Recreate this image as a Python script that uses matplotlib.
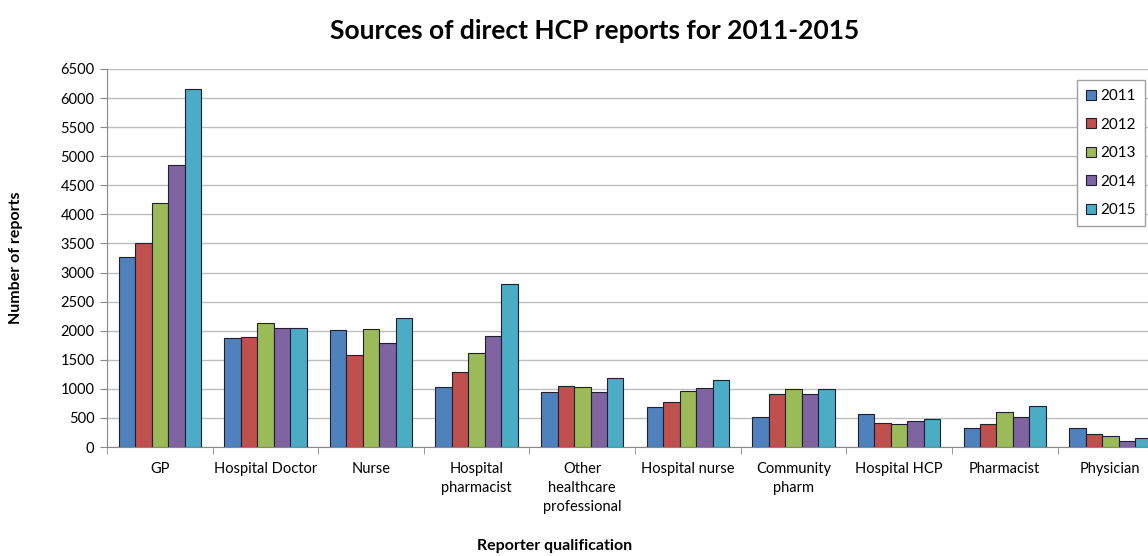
import matplotlib.pyplot as plt
import numpy as np

plt.rcParams['font.family'] = ['Lato', 'DejaVu Sans']

categories = ["GP", "Hospital Doctor", "Nurse", "Hospital\npharmacist",
              "Other\nhealthcare\nprofessional", "Hospital nurse",
              "Community\npharm", "Hospital HCP", "Pharmacist", "Physician"]
years = ["2011", "2012", "2013", "2014", "2015"]

r2011 = [3270, 1870, 2020, 1040, 940, 680, 520, 570, 320, 320]
r2012 = [3510, 1890, 1590, 1290, 1050, 780, 920, 420, 400, 230]
r2013 = [4195, 2130, 2030, 1620, 1030, 960, 1000, 390, 600, 190]
r2014 = [4850, 2040, 1780, 1910, 940, 1020, 920, 440, 510, 110]
r2015 = [6155, 2040, 2210, 2810, 1190, 1160, 990, 480, 710, 160]
series = [r2011, r2012, r2013, r2014, r2015]

colors = ["#4F81BD", "#C0504D", "#9BBB59", "#8064A2", "#4BACC6"]

fig = plt.figure(figsize=(11.48, 5.56), dpi=100)
# the plot area runs past the right edge, as in the cropped original
ax = fig.add_axes([0.0932, 0.196, 0.92, 0.68])

x = np.arange(len(categories))
w = 0.156
for i, (vals, c, yr) in enumerate(zip(series, colors, years)):
    ax.bar(x + (i - 2) * w, vals, w, color=c, edgecolor="#1f1f2f",
           linewidth=0.8, label=yr, zorder=3)

ax.set_xlim(-0.5, len(categories) - 0.5)
ax.set_ylim(0, 6500)
ax.set_yticks(np.arange(0, 6501, 500))
ax.yaxis.grid(True, color="#BDBDBD", linewidth=1.0, zorder=0)
ax.set_axisbelow(True)

ax.set_xticks(x)
ax.set_xticklabels(categories, fontsize=10.5, linespacing=1.45, va="top")
ax.tick_params(axis="x", which="major", length=0, pad=11)
ax.set_xticks(np.arange(-0.5, len(categories), 1), minor=True)
ax.tick_params(axis="x", which="minor", length=5, color="#888888")
ax.tick_params(axis="y", labelsize=10.5, length=5, color="#888888", pad=4)

for s in ["top", "right"]:
    ax.spines[s].set_visible(False)
for s in ["left", "bottom"]:
    ax.spines[s].set_color("#888888")

ax.set_ylabel("Number of reports", fontsize=11.5, fontweight="bold", va="center")
ax.yaxis.set_label_coords(-0.086, 0.5)
ax.set_xlabel("Reporter qualification", fontsize=11.5, fontweight="bold", va="center")
ax.xaxis.set_label_coords(0.424, -0.262)
fig.text(0.518, 0.945, "Sources of direct HCP reports for 2011-2015",
         ha="center", va="center", fontsize=19, fontweight="bold")

leg = ax.legend(loc="upper left", bbox_to_anchor=(0.9186, 0.971), fontsize=11,
                labelspacing=0.95, handlelength=0.6, handleheight=0.6,
                handletextpad=0.3, borderpad=0.6, borderaxespad=0,
                fancybox=False, framealpha=1)
leg.get_frame().set_edgecolor("#A0A0A0")

fig.savefig("out.png", dpi=100)
